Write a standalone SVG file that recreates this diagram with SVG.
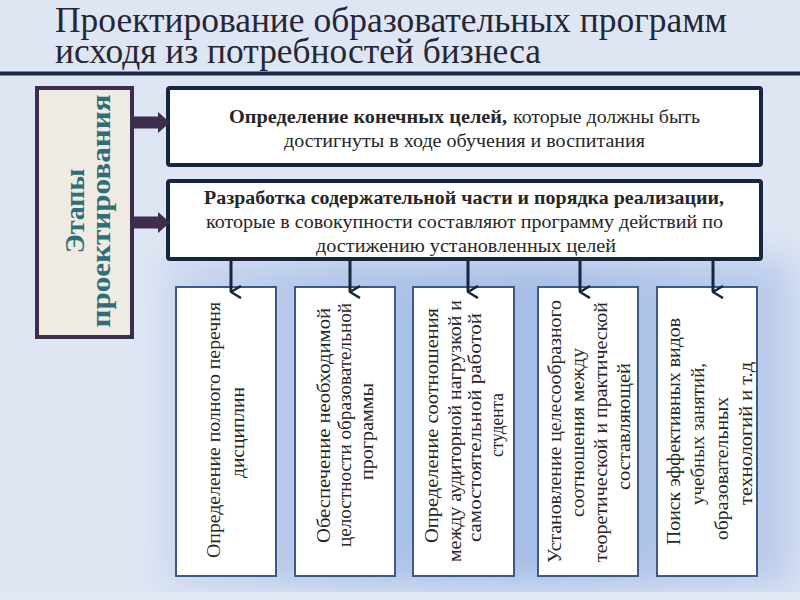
<svg xmlns="http://www.w3.org/2000/svg" width="800" height="600" viewBox="0 0 800 600">
  <defs>
    <linearGradient id="bluebg" x1="0" y1="0" x2="1" y2="0">
      <stop offset="0" stop-color="#c9d6ef"/>
      <stop offset="0.3" stop-color="#adc3e8"/>
      <stop offset="0.6" stop-color="#a6bde6"/>
      <stop offset="1" stop-color="#bccdec"/>
    </linearGradient>
    <filter id="soft" x="-20%" y="-20%" width="140%" height="140%">
      <feGaussianBlur stdDeviation="18"/>
    </filter>
    <marker id="vhead" viewBox="0 0 14 12" refX="7" refY="11" markerWidth="14" markerHeight="12" markerUnits="userSpaceOnUse" orient="auto-start-reverse">
      <path d="M1,1 L7,11 L13,1" fill="none" stroke="#17263d" stroke-width="2.5"/>
    </marker>
    <style>
      .title { font-family: "Liberation Serif", "Times New Roman", serif; font-size: 35px; fill: #262636; }
      .big { fill: #ffffff; stroke: #172640; stroke-width: 4; }
      .small { fill: #ffffff; stroke: #3c5a84; stroke-width: 2; }
      .t { font-family: "Liberation Serif", "Times New Roman", serif; font-size: 18px; fill: #262626; }
      .b { font-weight: bold; }
      .st { font-family: "Liberation Serif", "Times New Roman", serif; font-size: 18px; fill: #262626; }
      .stage { font-family: "Liberation Serif", "Times New Roman", serif; font-size: 28px; font-weight: bold; fill: #2f6e78; }
      .conn { stroke: #17263d; stroke-width: 3; fill: none; }
      .fat { fill: #3f2d4e; }
    </style>
  </defs>

  <!-- background -->
  <rect x="0" y="0" width="800" height="600" fill="#dfe6f3"/>
  <rect x="165" y="258" width="630" height="330" fill="url(#bluebg)" filter="url(#soft)"/>
  <rect x="0" y="592" width="800" height="8" fill="#e2e9f5"/>

  <!-- title -->
  <g id="title">
    <text class="title" x="55" y="32" textLength="672" lengthAdjust="spacingAndGlyphs">Проектирование образовательных программ</text>
    <text class="title" x="55" y="63" textLength="486" lengthAdjust="spacingAndGlyphs">исходя из потребностей бизнеса</text>
    <rect x="0" y="71.5" width="800" height="4" fill="#1b2a44"/>
  </g>

  <!-- stages label -->
  <g id="stages">
    <rect x="37" y="88" width="95" height="249" fill="#efebe2" stroke="#3d2d4d" stroke-width="4"/>
    <text class="stage" transform="translate(84,211) rotate(-90)" text-anchor="middle">Этапы</text>
    <text class="stage" transform="translate(110,211) rotate(-90)" text-anchor="middle" textLength="233" lengthAdjust="spacingAndGlyphs">проектирования</text>
  </g>

  <!-- goal box -->
  <g id="goals">
    <rect class="big" x="168" y="88" width="593" height="77" rx="2"/>
    <text class="t b" x="229" y="123" textLength="278" lengthAdjust="spacingAndGlyphs">Определение  конечных целей,</text>
    <text class="t" x="513" y="123" textLength="187" lengthAdjust="spacingAndGlyphs">которые должны быть</text>
    <text class="t" x="284" y="147" textLength="361" lengthAdjust="spacingAndGlyphs">достигнуты в ходе обучения и воспитания</text>
  </g>

  <!-- content box -->
  <g id="content">
    <rect class="big" x="168" y="181" width="593" height="78" rx="2"/>
    <text class="t b" x="204" y="204" textLength="520" lengthAdjust="spacingAndGlyphs">Разработка содержательной части и порядка реализации,</text>
    <text class="t" x="206" y="228" textLength="517" lengthAdjust="spacingAndGlyphs">которые в совокупности составляют программу действий по</text>
    <text class="t" x="316" y="252" textLength="300" lengthAdjust="spacingAndGlyphs">достижению установленных целей</text>
  </g>

  <!-- small boxes -->
  <g id="task1">
    <rect class="small" x="176" y="287" width="100" height="289"/>
    <text class="st" transform="translate(220,558) rotate(-90)" textLength="256" lengthAdjust="spacingAndGlyphs">Определение полного перечня</text>
    <text class="st" transform="translate(244,478) rotate(-90)" textLength="91" lengthAdjust="spacingAndGlyphs">дисциплин</text>
  </g>
  <g id="task2">
    <rect class="small" x="295" y="287" width="100" height="289"/>
    <text class="st" transform="translate(330,543) rotate(-90)" textLength="235" lengthAdjust="spacingAndGlyphs">Обеспечение необходимой</text>
    <text class="st" transform="translate(351,547) rotate(-90)" textLength="244" lengthAdjust="spacingAndGlyphs">целостности образовательной</text>
    <text class="st" transform="translate(373,480) rotate(-90)" textLength="97" lengthAdjust="spacingAndGlyphs">программы</text>
  </g>
  <g id="task3">
    <rect class="small" x="413" y="287" width="101" height="289"/>
    <text class="st" transform="translate(438,543) rotate(-90)" textLength="235" lengthAdjust="spacingAndGlyphs">Определение соотношения</text>
    <text class="st" transform="translate(461,562) rotate(-90)" textLength="262" lengthAdjust="spacingAndGlyphs">между аудиторной нагрузкой и</text>
    <text class="st" transform="translate(481,542) rotate(-90)" textLength="229" lengthAdjust="spacingAndGlyphs">самостоятельной работой</text>
    <text class="st" transform="translate(503,457) rotate(-90)" textLength="64" lengthAdjust="spacingAndGlyphs">студента</text>
  </g>
  <g id="task4">
    <rect class="small" x="538" y="287" width="100" height="289"/>
    <text class="st" transform="translate(561,563) rotate(-90)" textLength="263" lengthAdjust="spacingAndGlyphs">Установление  целесообразного</text>
    <text class="st" transform="translate(584,517) rotate(-90)" textLength="169" lengthAdjust="spacingAndGlyphs">соотношения между</text>
    <text class="st" transform="translate(607,562) rotate(-90)" textLength="260" lengthAdjust="spacingAndGlyphs">теоретической и практической</text>
    <text class="st" transform="translate(630,490) rotate(-90)" textLength="127" lengthAdjust="spacingAndGlyphs">составляющей</text>
  </g>
  <g id="task5">
    <rect class="small" x="657" y="287" width="100" height="289"/>
    <text class="st" transform="translate(680,545) rotate(-90)" textLength="227" lengthAdjust="spacingAndGlyphs">Поиск эффективных видов</text>
    <text class="st" transform="translate(704,505) rotate(-90)" textLength="142" lengthAdjust="spacingAndGlyphs">учебных  занятий,</text>
    <text class="st" transform="translate(728,540) rotate(-90)" textLength="143" lengthAdjust="spacingAndGlyphs">образовательных</text>
    <text class="st" transform="translate(752,505) rotate(-90)" textLength="143" lengthAdjust="spacingAndGlyphs">технологий и т.д</text>
  </g>

  <!-- connectors -->
  <g id="connectors">
    <path class="fat" d="M134,116.5 H158 V112 L170,122.5 L158,133 V128.5 H134 Z"/>
    <path class="fat" d="M134,216.5 H158 V212 L170,222.5 L158,233 V228.5 H134 Z"/>
    <line class="conn" x1="231" y1="261" x2="231" y2="292" marker-end="url(#vhead)"/>
    <line class="conn" x1="350" y1="261" x2="350" y2="292" marker-end="url(#vhead)"/>
    <line class="conn" x1="468" y1="261" x2="468" y2="292" marker-end="url(#vhead)"/>
    <line class="conn" x1="580" y1="261" x2="580" y2="292" marker-end="url(#vhead)"/>
    <line class="conn" x1="713" y1="261" x2="713" y2="292" marker-end="url(#vhead)"/>
  </g>
</svg>
